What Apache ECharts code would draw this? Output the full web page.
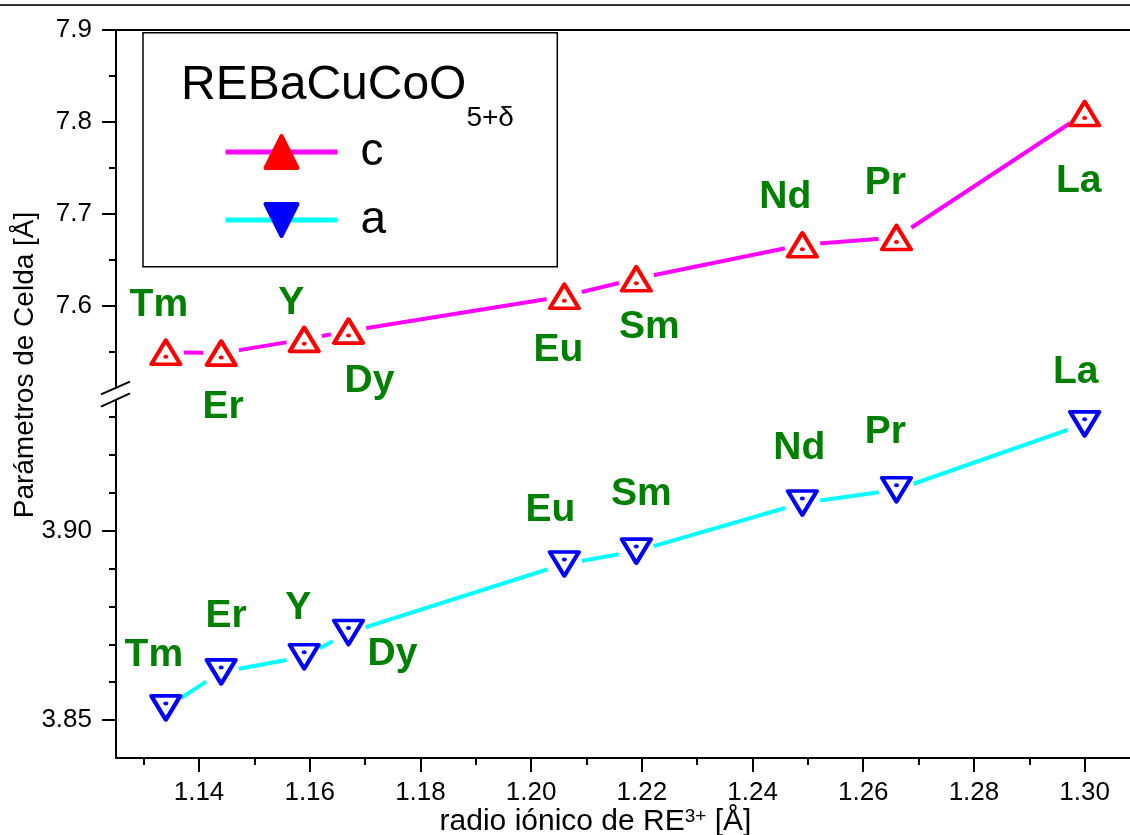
<!DOCTYPE html>
<html><head><meta charset="utf-8">
<script src="https://cdn.jsdelivr.net/npm/echarts@6/dist/echarts.min.js"></script>
<style>html,body{margin:0;padding:0;background:#fff}#chart{width:1130px;height:835px}</style>
</head><body><div id="chart"></div>
<script>
// ---------- data ----------
const radius   = [1.134, 1.144, 1.159, 1.167, 1.206, 1.219, 1.249, 1.266, 1.300];
const elements = ['Tm', 'Er', 'Y', 'Dy', 'Eu', 'Sm', 'Nd', 'Pr', 'La'];
const cParam   = [7.549, 7.548, 7.563, 7.572, 7.610, 7.629, 7.666, 7.674, 7.809];
const aParam   = [3.8532, 3.8627, 3.8667, 3.8731, 3.8912, 3.8946, 3.9073, 3.9108, 3.9282];

// ---------- tick labels ----------
const xTicks       = [1.14, 1.16, 1.18, 1.20, 1.22, 1.24, 1.26, 1.28, 1.30];
const xMinorTicks  = [1.13, 1.15, 1.17, 1.19, 1.21, 1.23, 1.25, 1.27, 1.29];
const cTicks       = [7.6, 7.7, 7.8, 7.9];
const cMinorTicks  = [7.55, 7.65, 7.75, 7.85];
const aTicks       = [3.85, 3.90];
const aMinorTicks  = [3.86, 3.87, 3.88, 3.89, 3.91, 3.92, 3.93];

// ---------- label placement (style) ----------
const cLabelOffset = [[-7,-47],[2,54],[-13,-36],[21,50],[-6,54],[13,48],[-17,-48],[-11,-54],[-6,68]];
const aLabelOffset = [[-12,-53],[5,-56],[-6,-49],[44,22],[-14,-54],[5,-57],[-3,-55],[-11,-58],[-9,-52]];

const FONT = 'Liberation Sans, Arial, Helvetica, sans-serif';
const X_MIN = 1.125, X_MAX = 1.31;

function paramSeries(name, values, axIdx, lineColor, markColor, rotate, dotOff, offsets) {
  const pts = radius.map((x, i) => [x, values[i]]);
  const common = { xAxisIndex: axIdx, yAxisIndex: axIdx, silent: true, emphasis: { disabled: true }, animation: false };
  return [
    Object.assign({}, common, {
      name: name, type: 'line', data: pts, z: 2,
      symbol: 'triangle', symbolRotate: rotate, showSymbol: false,
      lineStyle: { color: lineColor, width: 4, opacity: 1 },
      itemStyle: { color: markColor, borderColor: markColor, borderWidth: 4, borderJoin: 'round', opacity: 1 }
    }),
    Object.assign({}, common, {
      name: name + '-halo', type: 'scatter', data: pts, z: 3,
      symbol: 'circle', symbolSize: 36, itemStyle: { color: '#ffffff', opacity: 1 }
    }),
    Object.assign({}, common, {
      name: name + '-mark', type: 'scatter', z: 4,
      data: pts.map((p, i) => ({ value: p, label: { offset: offsets[i] } })),
      symbol: 'triangle', symbolRotate: rotate, symbolSize: [29, 24],
      itemStyle: { color: '#ffffff', borderColor: markColor, borderWidth: 4, borderJoin: 'round', opacity: 1 },
      label: {
        show: true, position: 'inside', opacity: 1,
        formatter: p => elements[p.dataIndex],
        color: '#008000', fontWeight: 'bold', fontSize: 39, fontFamily: FONT
      }
    }),
    Object.assign({}, common, {
      name: name + '-dot', type: 'scatter', data: pts, z: 5,
      symbol: 'circle', symbolSize: [5, 4], symbolOffset: [0, dotOff],
      itemStyle: { color: markColor, opacity: 1 }
    })
  ];
}

const gridTop = { left: 116, top: 30, width: 1024, height: 358, containLabel: false, outerBoundsMode: 'none' };
const gridBot = { left: 116, top: 400, width: 1024, height: 357.9, containLabel: false, outerBoundsMode: 'none' };
const axisLine = { show: true, lineStyle: { color: '#000', width: 2 } };
const tickLabel = { color: '#000', fontSize: 26, fontFamily: FONT };

const option = {
  backgroundColor: '#ffffff',
  animation: false,
  tooltip: { show: false },
  grid: [gridTop, gridBot, Object.assign({}, gridTop), Object.assign({}, gridBot)],
  xAxis: [
    { gridIndex: 0, type: 'value', min: X_MIN, max: X_MAX, position: 'top',
      axisLine: axisLine, axisTick: { show: false }, axisLabel: { show: false }, splitLine: { show: false } },
    { gridIndex: 1, type: 'value', min: X_MIN, max: X_MAX, position: 'bottom',
      axisLine: axisLine,
      axisTick: { show: true, inside: false, length: 14, customValues: xTicks, lineStyle: { color: '#000', width: 2 } },
      axisLabel: Object.assign({ show: true, customValues: xTicks, margin: 22, lineHeight: 26,
        formatter: v => v.toFixed(2) }, tickLabel),
      splitLine: { show: false },
      name: '{n|radio iónico de RE}{s|3+}{n| [Å]}',
      nameLocation: 'middle', nameGap: 49,
      nameTextStyle: {
        padding: [0, 65, 0, 0],
        rich: {
          n: { fontSize: 30, lineHeight: 30, fontFamily: FONT, color: '#000' },
          s: { fontSize: 19, lineHeight: 19, verticalAlign: 'top', fontFamily: FONT, color: '#000' }
        }
      }
    },
    { gridIndex: 2, type: 'value', min: X_MIN, max: X_MAX, show: false },
    { gridIndex: 3, type: 'value', min: X_MIN, max: X_MAX, position: 'bottom',
      axisLine: { show: false },
      axisTick: { show: true, inside: false, length: 7, customValues: xMinorTicks, lineStyle: { color: '#000', width: 2 } },
      axisLabel: { show: false }, splitLine: { show: false } }
  ],
  yAxis: [
    { gridIndex: 0, type: 'value', min: 7.51, max: 7.9, position: 'left',
      axisLine: axisLine,
      axisTick: { show: true, inside: false, length: 14, customValues: cTicks, lineStyle: { color: '#000', width: 2 } },
      axisLabel: Object.assign({ show: true, customValues: cTicks, margin: 24, formatter: v => v.toFixed(1) }, tickLabel),
      splitLine: { show: false } },
    { gridIndex: 1, type: 'value', min: 3.84, max: 3.9345, position: 'left',
      axisLine: axisLine,
      axisTick: { show: true, inside: false, length: 14, customValues: aTicks, lineStyle: { color: '#000', width: 2 } },
      axisLabel: Object.assign({ show: true, customValues: aTicks, margin: 24, formatter: v => v.toFixed(2) }, tickLabel),
      splitLine: { show: false } },
    { gridIndex: 2, type: 'value', min: 7.51, max: 7.9, position: 'left',
      axisLine: { show: false },
      axisTick: { show: true, inside: false, length: 7, customValues: cMinorTicks, lineStyle: { color: '#000', width: 2 } },
      axisLabel: { show: false }, splitLine: { show: false } },
    { gridIndex: 3, type: 'value', min: 3.84, max: 3.9345, position: 'left',
      axisLine: { show: false },
      axisTick: { show: true, inside: false, length: 7, customValues: aMinorTicks, lineStyle: { color: '#000', width: 2 } },
      axisLabel: { show: false }, splitLine: { show: false } }
  ],
  legend: {
    show: true, orient: 'vertical', left: 223, top: 129, padding: 0,
    data: [
      { name: 'c', itemStyle: { color: '#ff0000', borderColor: '#ff0000', borderWidth: 4, borderJoin: 'round' },
        lineStyle: { color: '#ff00ff', width: 5 } },
      { name: 'a', itemStyle: { color: '#0000ff', borderColor: '#0000ff', borderWidth: 4, borderJoin: 'round' },
        lineStyle: { color: '#00ffff', width: 5 } }
    ],
    itemWidth: 112, itemHeight: 40, itemGap: 22,
    lineStyle: { width: 5 },
    selectedMode: false,
    textStyle: { fontSize: 46, lineHeight: 40, color: '#000', fontFamily: FONT, padding: [0, 0, 0, 18] }
  },
  series: [].concat(
    paramSeries('c', cParam, 0, '#ff00ff', '#ff0000', 0, 4.5, cLabelOffset),
    paramSeries('a', aParam, 1, '#00ffff', '#0000ff', 180, -4.5, aLabelOffset)
  ),
  graphic: [
    { type: 'line', silent: true, shape: { x1: 0, y1: 5, x2: 1130, y2: 5 }, style: { stroke: '#333', lineWidth: 2 } },
    { type: 'rect', silent: true, shape: { x: 143, y: 32.7, width: 414.3, height: 234 },
      style: { fill: 'transparent', stroke: '#000', lineWidth: 1.5 } },
    { type: 'text', silent: true, x: 181, y: 61.4,
      style: { text: '{m|REBaCuCoO}{s|5+δ}', align: 'left', verticalAlign: 'top', fill: '#000',
        rich: {
          m: { fontSize: 48, lineHeight: 48, verticalAlign: 'top', fontFamily: FONT, fill: '#000' },
          s: { fontSize: 28, lineHeight: 114, fontFamily: FONT, fill: '#000' }
        } } },
    { type: 'text', silent: true, x: 25.3, y: 365, rotation: Math.PI / 2,
      style: { text: 'Parámetros de Celda [Å]', fontSize: 28, fontFamily: FONT, fill: '#000',
        align: 'center', verticalAlign: 'middle' } },
    { type: 'line', silent: true, shape: { x1: 101, y1: 394.3, x2: 130, y2: 381.7 }, style: { stroke: '#000', lineWidth: 2 } },
    { type: 'line', silent: true, shape: { x1: 101, y1: 406.7, x2: 130, y2: 393.3 }, style: { stroke: '#000', lineWidth: 2 } }
  ]
};

const chart = echarts.init(document.getElementById('chart'), null, { renderer: 'canvas' });
chart.setOption(option);
</script>
</body></html>
